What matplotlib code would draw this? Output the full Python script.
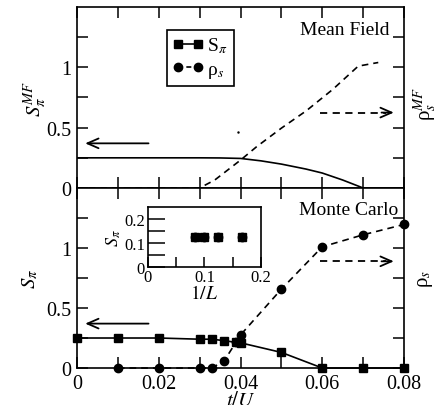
import matplotlib
matplotlib.use("Agg")
import matplotlib.pyplot as plt
from matplotlib.lines import Line2D

plt.rcParams['font.family'] = ['Liberation Serif', 'DejaVu Serif']
plt.rcParams['mathtext.fontset'] = 'stix'

# mean field curves
mf_t = [0, 0.01, 0.02, 0.03, 0.035, 0.04, 0.045, 0.05, 0.056, 0.06, 0.065, 0.07, 0.08]
mf_s = [0.25, 0.25, 0.25, 0.25, 0.249, 0.245, 0.225, 0.198, 0.157, 0.124, 0.066, 0.0, 0.0]
mf_rho_t = [0, 0.01, 0.02, 0.03, 0.0337, 0.04, 0.0439, 0.05, 0.0561, 0.0626, 0.0688, 0.0737]
mf_rho = [0, 0, 0, 0, 0.066, 0.231, 0.341, 0.496, 0.64, 0.818, 1.01, 1.04]

# monte carlo data
mc_t = [0, 0.01, 0.02, 0.03, 0.033, 0.036, 0.039, 0.04, 0.05, 0.06, 0.07, 0.08]
mc_s = [0.25, 0.25, 0.25, 0.24, 0.24, 0.228, 0.213, 0.21, 0.13, 0.0, 0.0, 0.0]
mc_rho_t = [0.01, 0.02, 0.03, 0.033, 0.036, 0.039, 0.04, 0.05, 0.06, 0.07, 0.08]
mc_rho = [0, 0, 0, 0, 0.06, 0.22, 0.275, 0.657, 1.01, 1.11, 1.196]

# inset: finite size
inv_L = [1/12, 1/10, 1/8, 1/6]
s_L = [0.125, 0.125, 0.125, 0.125]

# arrows (start, end, y)
left_arrow = (0.0175, 0.002, 0.37)
right_arrow = (0.0595, 0.0775, [0.625, 0.889])

fig = plt.figure(figsize=(4.39, 4.06), dpi=100)
ax1 = fig.add_axes([0.1754, 0.5345, 0.7449, 0.4458])
ax2 = fig.add_axes([0.1754, 0.0911, 0.7449, 0.4434])

for ax in (ax1, ax2):
    ax.set_xlim(0, 0.08)
    ax.set_ylim(0, 1.5)
    ax.set_xticks([0, 0.02, 0.04, 0.06, 0.08])
    ax.set_xticks([0.01, 0.03, 0.05, 0.07], minor=True)
    ax.set_yticks([0, 0.5, 1])
    ax.set_yticks([0.25, 0.75, 1.25], minor=True)
    ax.tick_params(which='both', direction='in', top=True, right=True,
                   length=8, width=1.1, labelsize=14.5, pad=4)
    for sp in ax.spines.values():
        sp.set_linewidth(1.2)
    ax.set_yticklabels(['0', '0.5', '1'])

ax1.tick_params(labelbottom=False)
ax2.set_xticklabels(['0', '0.02', '0.04', '0.06', '0.08'])

# top panel
ax1.plot(mf_t, mf_s, '-', color='black', lw=1.2)
ax1.plot(mf_rho_t, mf_rho, '--', color='black', lw=1.2, dashes=(4, 3))
ax1.plot([0.0395], [0.46], '.', color='black', ms=1.5)
ax1.text(0.957, 0.85, 'Mean Field', transform=ax1.transAxes, ha='right',
         va='baseline', fontsize=14)
ax1.set_ylabel(r'$S_\pi^{MF}$', fontsize=15, labelpad=-2)
ax1.text(1.066, 0.47, r'ρ$_s^{MF}$', transform=ax1.transAxes, rotation=90,
         ha='center', va='center', fontsize=15)

handles = [Line2D([], [], color='black', lw=1.2, marker='s', ms=5.5),
           Line2D([], [], color='black', lw=1.2, ls='--', marker='o', ms=6, dashes=(3, 2))]
leg = ax1.legend(handles, [r'S$_\pi$', r'ρ$_s$'], loc='upper left',
                 bbox_to_anchor=(0.274, 0.874), fontsize=14, numpoints=2,
                 handlelength=1.6, handletextpad=0.2, borderpad=0.3,
                 labelspacing=0.25, fancybox=False, framealpha=1,
                 borderaxespad=0)
leg.get_frame().set_edgecolor('black')
leg.get_frame().set_linewidth(1.2)

# bottom panel
ax2.plot(mc_t, mc_s, '-s', color='black', lw=1.2, ms=5.5, clip_on=False, zorder=3)
ax2.plot(mc_rho_t, mc_rho, '--o', color='black', lw=1.2, ms=6, dashes=(4, 3),
         clip_on=False, zorder=3)
ax2.text(0.982, 0.855, 'Monte Carlo', transform=ax2.transAxes, ha='right',
         va='baseline', fontsize=14)
ax2.set_ylabel(r'$S_\pi$', fontsize=15, labelpad=4)
ax2.text(1.065, 0.5, r'ρ$_s$', transform=ax2.transAxes, rotation=90,
         ha='center', va='center', fontsize=15)
ax2.set_xlabel(r'$t/U$', fontsize=15, labelpad=-1)

for ax, y in zip((ax1, ax2), right_arrow[2]):
    ax.annotate('', xy=(left_arrow[1], left_arrow[2]), xytext=(left_arrow[0], left_arrow[2]),
                arrowprops=dict(arrowstyle='->,head_length=0.8,head_width=0.35',
                                lw=1.3, color='black', shrinkA=0, shrinkB=0))
    ax.plot([right_arrow[0], right_arrow[1] - 0.002], [y, y], '--', color='black',
            lw=1.3, dashes=(4, 3))
    ax.annotate('', xy=(right_arrow[1], y), xytext=(right_arrow[1] - 0.003, y),
                arrowprops=dict(arrowstyle='->,head_length=0.8,head_width=0.35',
                                lw=1.3, color='black', shrinkA=0, shrinkB=0))

# inset
ins = fig.add_axes([0.3364, 0.3406, 0.2581, 0.1478])
ins.plot(inv_L, s_L, 'o', color='black', ms=6)
ins.plot(inv_L, s_L, 's', color='black', ms=5.5)
ins.set_xlim(0, 0.2)
ins.set_ylim(0, 0.25)
ins.set_xticks([0, 0.1, 0.2])
ins.set_xticks([0.05, 0.15], minor=True)
ins.set_yticks([0, 0.1, 0.2])
ins.set_yticks([0.05, 0.15], minor=True)
ins.set_xticklabels(['0', '0.1', '0.2'])
ins.set_yticklabels(['0', '0.1', '0.2'])
ins.tick_params(which='both', direction='in', labelsize=12, pad=2, width=1.1)
ins.tick_params(axis='x', which='both', length=7)
ins.tick_params(axis='y', which='both', length=12)
for sp in ins.spines.values():
    sp.set_linewidth(1.2)
ins.set_xlabel(r'$1/L$', fontsize=14, labelpad=-1)
ins.set_ylabel(r'$S_\pi$', fontsize=13, labelpad=1)

fig.savefig('out.png', dpi=100)
